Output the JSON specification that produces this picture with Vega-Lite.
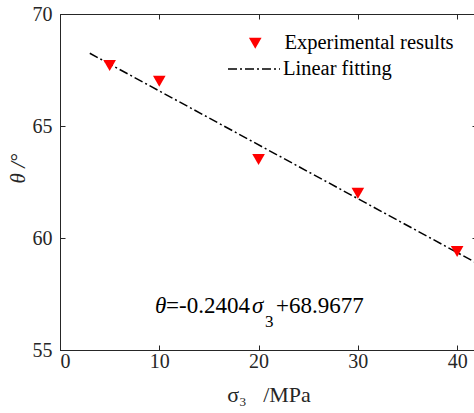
{
  "$schema": "https://vega.github.io/schema/vega-lite/v6.json",
  "width": 417,
  "height": 336,
  "autosize": {"type": "none"},
  "padding": {"left": 60, "top": 14, "right": 0, "bottom": 63},
  "background": "white",
  "config": {
    "view": {"stroke": "#262626", "strokeWidth": 1},
    "axis": {
      "grid": false,
      "labelFont": "Liberation Serif",
      "titleFont": "Liberation Serif",
      "labelFontSize": 20,
      "titleFontSize": 20,
      "titleFontWeight": "normal",
      "labelColor": "#262626",
      "titleColor": "#262626",
      "domainColor": "#262626",
      "tickColor": "#262626",
      "tickSize": -5
    },
    "legend": {
      "labelFont": "Liberation Serif",
      "labelFontSize": 20.5,
      "labelColor": "black",
      "labelLimit": 400,
      "padding": 0,
      "orient": "none"
    }
  },
  "datasets": {
    "points": [
      {"sigma3": 5, "theta": 67.7},
      {"sigma3": 10, "theta": 67.0},
      {"sigma3": 20, "theta": 63.5},
      {"sigma3": 30, "theta": 62.0},
      {"sigma3": 40, "theta": 59.4}
    ],
    "fit": [
      {"sigma3": 3, "theta": 68.2465},
      {"sigma3": 42, "theta": 58.8709}
    ],
    "note": [
      {"sigma3": 9.57, "theta": 56.65}
    ]
  },
  "resolve": {"axis": {"x": "independent", "y": "independent"}},
  "layer": [
    {
      "data": {"name": "fit"},
      "mark": {"type": "line", "color": "black", "strokeWidth": 1.5, "clip": true},
      "encoding": {
        "x": {
          "field": "sigma3", "type": "quantitative",
          "scale": {"domain": [0, 42], "nice": false, "zero": false},
          "axis": {"orient": "bottom", "values": [0, 10, 20, 30, 40], "title": "σ₃\u00a0\u00a0\u00a0/MPa", "titleFontSize": 22, "labelPadding": 6, "titleY": 51, "titleBaseline": "alphabetic"}
        },
        "y": {
          "field": "theta", "type": "quantitative",
          "scale": {"domain": [55, 70], "nice": false, "zero": false},
          "axis": {"orient": "left", "values": [55, 60, 65, 70], "title": "θ /°", "titleFontStyle": "italic", "titleFontSize": 21, "labelPadding": 13, "titleX": -42, "titleY": 154, "titleAngle": -90, "titleBaseline": "middle", "titleAlign": "center"}
        },
        "strokeDash": {
          "datum": "Linear fitting",
          "scale": {"range": [[9, 3, 2, 3]]},
          "legend": {"title": null, "symbolType": "stroke", "symbolSize": 2704, "symbolStrokeColor": "black", "symbolStrokeWidth": 1.5, "labelOffset": 2, "legendX": 167, "legendY": 28}
        }
      }
    },
    {
      "data": {"name": "points"},
      "mark": {"type": "point", "shape": "triangle-down", "filled": true, "size": 160, "opacity": 1, "strokeWidth": 0},
      "encoding": {
        "x": {
          "field": "sigma3", "type": "quantitative",
          "axis": {"orient": "top", "values": [0, 10, 20, 30, 40], "labels": false, "title": null, "domain": false}
        },
        "y": {
          "field": "theta", "type": "quantitative",
          "axis": {"orient": "right", "values": [55, 60, 65, 70], "labels": false, "title": null, "domain": false}
        },
        "fill": {
          "datum": "Experimental results",
          "scale": {"range": ["red"]},
          "legend": {"title": null, "symbolType": "triangle-down", "symbolSize": 160, "symbolStrokeWidth": 0, "labelOffset": 19, "legendX": 185, "legendY": 19}
        }
      }
    },
    {
      "data": {"name": "note"},
      "encoding": {
        "x": {"field": "sigma3", "type": "quantitative", "axis": null},
        "y": {"field": "theta", "type": "quantitative", "axis": null}
      },
      "layer": [
        {"mark": {"type": "text", "font": "Liberation Serif", "fontSize": 23, "fontStyle": "italic", "align": "left", "baseline": "alphabetic", "color": "black", "dx": 0, "text": "θ"}},
        {"mark": {"type": "text", "font": "Liberation Serif", "fontSize": 23, "align": "left", "baseline": "alphabetic", "color": "black", "dx": 11, "text": "=-0.2404"}},
        {"mark": {"type": "text", "font": "Liberation Serif", "fontSize": 23, "fontStyle": "italic", "align": "left", "baseline": "alphabetic", "color": "black", "dx": 97, "text": "σ"}},
        {"mark": {"type": "text", "font": "Liberation Serif", "fontSize": 17, "align": "left", "baseline": "alphabetic", "color": "black", "dx": 110, "dy": 14, "text": "3"}},
        {"mark": {"type": "text", "font": "Liberation Serif", "fontSize": 23, "align": "left", "baseline": "alphabetic", "color": "black", "dx": 121, "text": "+68.9677"}}
      ]
    }
  ]
}
